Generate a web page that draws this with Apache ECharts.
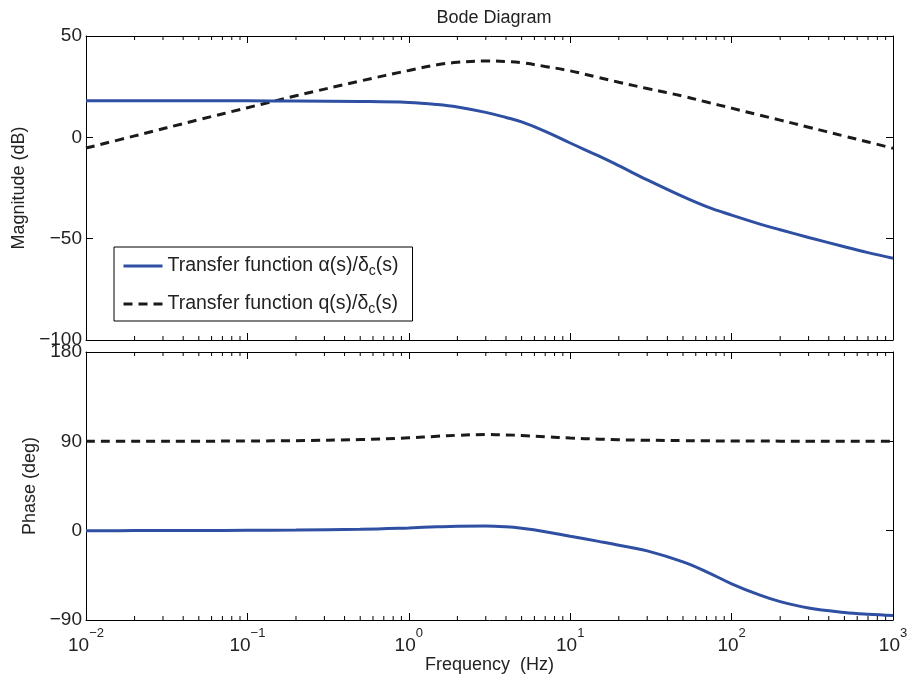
<!DOCTYPE html>
<html>
<head>
<meta charset="utf-8">
<title>Bode Diagram</title>
<script src="https://cdn.jsdelivr.net/npm/echarts@6/dist/echarts.min.js"></script>
<style>
  html, body { margin: 0; padding: 0; background: #fff; }
  #chart { width: 911px; height: 681px; }
</style>
</head>
<body>
<div id="chart"></div>
<script>
// frequencies (Hz)
var freq = [0.01, 0.02, 0.05, 0.1, 0.2, 0.5, 1, 1.5, 2, 3, 4, 5, 7, 10, 15, 20, 30, 50, 70, 100, 150, 200, 300, 500, 700, 1000];
// magnitude (dB)
var magAlpha = [18, 18, 18, 18, 17.9, 17.7, 17.2, 16.2, 15.0, 12.3, 9.8, 7.6, 3.0, -2.8, -9.2, -14.0, -21.0, -29.3, -34.2, -38.4, -42.8, -45.6, -49.4, -54.0, -56.9, -59.7];
var magQ = [-5.3, 0.7, 8.7, 14.6, 20.5, 27.8, 33.0, 35.8, 37.0, 37.7, 37.4, 36.8, 35.0, 32.8, 29.5, 27.2, 24.1, 20.3, 17.4, 14.4, 10.9, 8.5, 5.0, 0.6, -2.3, -5.4];
// phase (deg)
var phAlpha = [0, 0.05, 0.15, 0.3, 0.6, 1.4, 2.8, 3.9, 4.5, 4.7, 3.9, 2.4, -1.0, -5.6, -10.8, -14.6, -20.4, -31.5, -41.5, -53.5, -65, -71.5, -78, -82.5, -84.3, -85.5];
var phQ = [90, 90.05, 90.15, 90.35, 90.7, 91.8, 93.5, 95.1, 96.1, 96.8, 96.5, 95.9, 94.6, 93.3, 92.2, 91.6, 91.1, 90.7, 90.5, 90.4, 90.3, 90.2, 90.15, 90.1, 90.05, 90];

var magTicks = [-100, -50, 0, 50];
var phaseTicks = [-90, 0, 90, 180];

function pairs(ys) {
  return freq.map(function (f, i) { return [f, ys[i]]; });
}

// minor log ticks 2..9 of every decade
var minorTicks = [];
for (var d = -2; d < 3; d++) {
  for (var m = 2; m <= 9; m++) minorTicks.push(+(m * Math.pow(10, d)).toPrecision(3));
}

var FONT = 'Liberation Sans';
var BLUE = '#2f4fa3';
var DARK = '#1a1a1a';
var MINUS = '\u2212';

function fmtY(v) {
  return v < 0 ? MINUS + Math.abs(v) : String(v);
}

function logAxis(grid, pos, labels) {
  return {
    type: 'log', logBase: 10, gridIndex: grid, position: pos,
    min: 0.01, max: 1000,
    axisLine: { show: true, onZero: false, lineStyle: { color: '#000', width: 1 } },
    axisTick: { show: true, inside: true, length: 7, lineStyle: { color: '#000' } },
    splitLine: { show: false },
    axisLabel: {
      show: labels, margin: 7,
      formatter: function (v) {
        var e = Math.round(Math.log10(v));
        return '{b|10}{e|' + (e < 0 ? MINUS + (-e) : e) + '}';
      },
      rich: {
        b: { fontFamily: FONT, fontSize: 19, color: '#222', verticalAlign: 'bottom', lineHeight: 28 },
        e: { fontFamily: FONT, fontSize: 13, color: '#222', verticalAlign: 'top', lineHeight: 28 }
      }
    },
    nameTextStyle: { fontFamily: FONT, fontSize: 18, color: '#222' }
  };
}

function valAxis(grid, pos, min, max, interval, labels, name, gap) {
  return {
    type: 'value', gridIndex: grid, position: pos,
    min: min, max: max, interval: interval,
    name: name || '', nameLocation: 'middle', nameGap: gap || 0, nameRotate: 90,
    nameTextStyle: { fontFamily: FONT, fontSize: 18, color: '#222' },
    axisLine: { show: true, onZero: false, lineStyle: { color: '#000', width: 1 } },
    axisTick: { show: true, inside: true, length: 7, lineStyle: { color: '#000' } },
    splitLine: { show: false },
    axisLabel: { show: labels, margin: 4, fontFamily: FONT, fontSize: 19, color: '#222', formatter: fmtY }
  };
}

function minorSeries(xi, yi, ymin, ymax) {
  return {
    type: 'custom', xAxisIndex: xi, yAxisIndex: yi, silent: true, clip: false,
    data: minorTicks,
    encode: { x: 0 },
    renderItem: function (params, api) {
      var v = api.value(0);
      var top = api.coord([v, ymax]);
      var bot = api.coord([v, ymin]);
      var style = { stroke: '#000', lineWidth: 1 };
      return {
        type: 'group',
        children: [
          { type: 'line', shape: { x1: top[0], y1: top[1], x2: top[0], y2: top[1] + 4 }, style: style },
          { type: 'line', shape: { x1: bot[0], y1: bot[1], x2: bot[0], y2: bot[1] - 4 }, style: style }
        ]
      };
    }
  };
}

var legendNames = {
  alpha: '{n|Transfer function }{g|\u03b1(s)/\u03b4}{s|c}{n|(s)}',
  q: '{n|Transfer function q(s)/\u03b4}{s|c}{n|(s)}'
};

var chart = echarts.init(document.getElementById('chart'), null, { renderer: 'canvas' });
chart.setOption({
  animation: false,
  backgroundColor: '#fff',
  title: {
    text: 'Bode Diagram', left: 489, top: 4, textAlign: 'center',
    textStyle: { fontFamily: FONT, fontSize: 18, fontWeight: 'normal', color: '#222' }
  },
  grid: [
    { left: 86, top: 36, width: 807, height: 304 },
    { left: 86, top: 352, width: 807, height: 268 }
  ],
  xAxis: [
    logAxis(0, 'bottom', false),
    logAxis(0, 'top', false),
    Object.assign(logAxis(1, 'bottom', true), { name: 'Frequency  (Hz)', nameLocation: 'middle', nameGap: 32 }),
    logAxis(1, 'top', false)
  ],
  yAxis: [
    valAxis(0, 'left', magTicks[0], magTicks[3], 50, true, 'Magnitude (dB)', 55),
    valAxis(0, 'right', magTicks[0], magTicks[3], 50, false),
    valAxis(1, 'left', phaseTicks[0], phaseTicks[3], 90, true, 'Phase (deg)', 46),
    valAxis(1, 'right', phaseTicks[0], phaseTicks[3], 90, false)
  ],
  legend: {
    data: ['alpha', 'q'],
    orient: 'vertical',
    left: 114, top: 247,
    itemWidth: 39, itemHeight: 14, itemGap: 13,
    padding: [6, 14, 5, 8],
    borderColor: '#000', borderWidth: 1,
    backgroundColor: '#fff',
    itemStyle: { opacity: 0 },
    lineStyle: { width: 3 },
    formatter: function (name) { return legendNames[name]; },
    textStyle: {
      fontFamily: FONT, fontSize: 19.5, color: '#222',
      rich: {
        n: { fontFamily: FONT, fontSize: 19.5, color: '#222', lineHeight: 24 },
        g: { fontFamily: FONT, fontSize: 19.5, color: '#222', lineHeight: 24 },
        s: { fontFamily: FONT, fontSize: 14, color: '#222', verticalAlign: 'bottom', lineHeight: 24, padding: [11, 0, 0, 0] }
      }
    }
  },
  series: [
    {
      name: 'alpha', type: 'line', xAxisIndex: 0, yAxisIndex: 0, showSymbol: false, symbol: 'none', smooth: 0.4,
      data: pairs(magAlpha), lineStyle: { color: BLUE, width: 3 }, itemStyle: { color: BLUE }, z: 3
    },
    {
      name: 'q', type: 'line', xAxisIndex: 0, yAxisIndex: 0, showSymbol: false, symbol: 'none', smooth: 0.4,
      data: pairs(magQ), lineStyle: { color: DARK, width: 3, type: [9, 6] }, itemStyle: { color: DARK }, z: 2
    },
    {
      name: 'alpha', type: 'line', xAxisIndex: 2, yAxisIndex: 2, showSymbol: false, symbol: 'none', smooth: 0.4,
      data: pairs(phAlpha), lineStyle: { color: BLUE, width: 3 }, itemStyle: { color: BLUE }, z: 3
    },
    {
      name: 'q', type: 'line', xAxisIndex: 2, yAxisIndex: 2, showSymbol: false, symbol: 'none', smooth: 0.4,
      data: pairs(phQ), lineStyle: { color: DARK, width: 3, type: [9, 6] }, itemStyle: { color: DARK }, z: 2
    },
    minorSeries(0, 0, magTicks[0], magTicks[3]),
    minorSeries(2, 2, phaseTicks[0], phaseTicks[3])
  ]
});
</script>
</body>
</html>
